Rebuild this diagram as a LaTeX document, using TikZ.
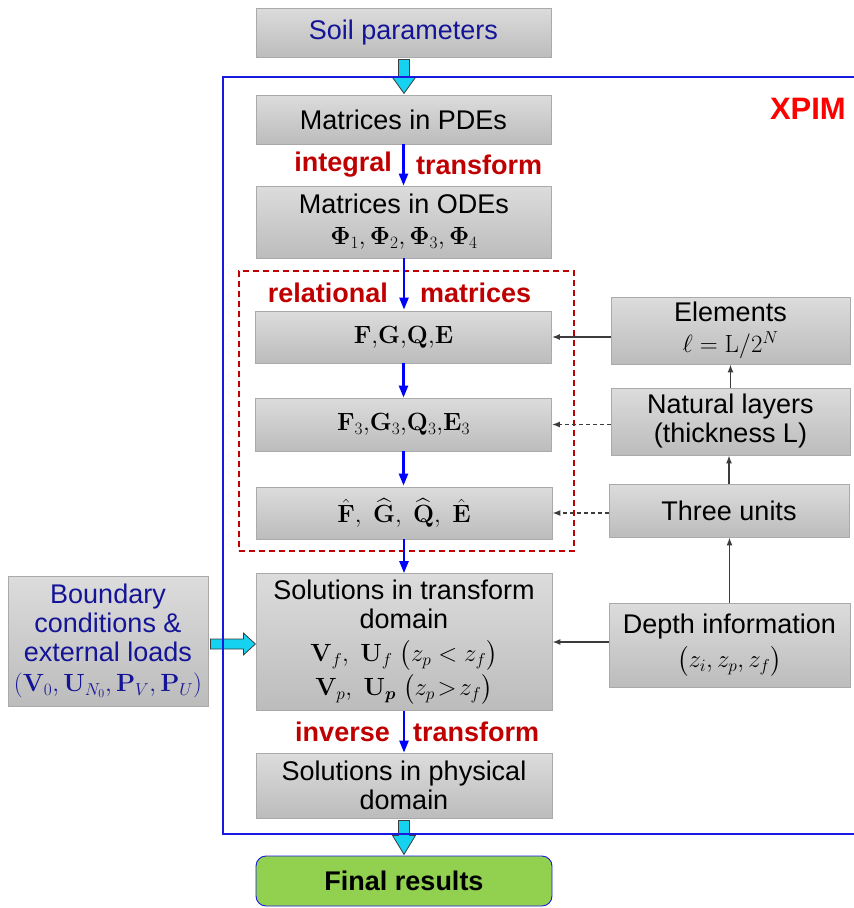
\documentclass[tikz,border=0pt]{standalone}
\usepackage{amsmath,bm}
\usepackage[no-math]{fontspec}
\setmainfont{Liberation Sans}
\usetikzlibrary{arrows.meta,calc}
\definecolor{navy}{RGB}{20,20,150}
\definecolor{darkred}{RGB}{192,0,0}
\definecolor{boxgray}{RGB}{170,170,170}
\definecolor{gtop}{RGB}{220,220,220}
\definecolor{gbot}{RGB}{188,188,188}
\definecolor{framecol}{RGB}{25,25,225}
\definecolor{cyanfill}{RGB}{20,210,240}
\definecolor{finalgreen}{RGB}{146,208,80}
\definecolor{arrgray}{RGB}{60,60,60}
\newcommand{\mfs}{\fontsize{26}{30}\selectfont}
\begin{document}
\begin{tikzpicture}[x=1pt,y=-1pt,
  gbox/.style={draw=boxgray, line width=0.8pt, top color=gtop, bottom color=gbot,
    align=center, inner sep=0pt, font=\fontsize{27}{29}\selectfont},
  lbl/.style={font=\fontsize{27}{30}\selectfont\bfseries, text=darkred, inner sep=0pt},
  bluearrow/.style={draw=blue, line width=2.4pt, -{Triangle[length=12pt,width=9pt]}},
  grayarrow/.style={draw=arrgray, line width=1.4pt, -{Latex[length=8pt,width=6pt]}},
  dasharrow/.style={grayarrow, dash pattern=on 4pt off 3pt},
  cyanarrow/.style={draw=arrgray, line width=0.8pt, fill=cyanfill, line join=miter}
]
\useasboundingbox (0,0) rectangle (854,908);

% red dashed group box
\node[draw=darkred, line width=1.4pt, dash pattern=on 6pt off 4pt, inner sep=0pt,
  minimum width=335pt, minimum height=280pt] (group) at (406.5,411) {};

% centre column
\node[gbox, minimum width=295pt, minimum height=49pt, text=navy] (soil) at (403.5,32.5) {Soil parameters};
\node[gbox, minimum width=295pt, minimum height=49pt] (pde) at (403.5,119.5) {Matrices in PDEs};
\node[gbox, minimum width=295pt, minimum height=72pt] (ode) at (404,222)
  {Matrices in ODEs\\[2pt] {\mfs $\bm{\Phi}_1, \bm{\Phi}_2, \bm{\Phi}_3, \bm{\Phi}_4$}};
\node[gbox, minimum width=296pt, minimum height=52pt] (fgqe) at (403.5,337)
  {\mfs $\mathbf{F}{,}\mathbf{G}{,}\mathbf{Q}{,}\mathbf{E}$};
\node[gbox, minimum width=296pt, minimum height=53pt] (f3) at (403.5,424.5)
  {\mfs $\mathbf{F}_3{,}\mathbf{G}_3{,}\mathbf{Q}_3{,}\mathbf{E}_3$};
\node[gbox, minimum width=296pt, minimum height=52pt] (fhat) at (404,513)
  {\mfs $\hat{\mathbf{F}},\ \widehat{\mathbf{G}},\ \widehat{\mathbf{Q}},\ \hat{\mathbf{E}}$};
\node[gbox, minimum width=296pt, minimum height=137pt] (soltr) at (404,642)
  {Solutions in transform\\ domain\\[4pt]
   {\mfs $\mathbf{V}_f,\ \mathbf{U}_f\ \bigl(z_p < z_f\bigr)$}\\[3pt]
   {\mfs $\mathbf{V}_p,\ \mathbf{U}_{\bm{p}}\ \bigl(z_p \!>\! z_f\bigr)$}};
\node[gbox, minimum width=296pt, minimum height=65pt] (solph) at (404,785.5)
  {Solutions in physical\\ domain};
\node[draw=framecol, line width=0.9pt, fill=finalgreen, rounded corners=10pt,
  minimum width=296pt, minimum height=50pt, inner sep=0pt,
  font=\fontsize{27}{30}\selectfont\bfseries] (final) at (404,881) {Final results};

% right column
\node[gbox, minimum width=239pt, minimum height=67pt] (elem) at (730.5,330.5)
  {Elements\\[2pt] {\mfs $\ell = \mathrm{L}/2^N$}};
\node[gbox, minimum width=239pt, minimum height=67pt] (nat) at (730.5,421.5)
  {Natural layers\\ (thickness L)};
\node[gbox, minimum width=240pt, minimum height=53pt] (three) at (729,510.5) {Three units};
\node[gbox, minimum width=241pt, minimum height=84pt] (depth) at (729.5,645)
  {Depth information\\[5pt] {\mfs $\bigl(z_i, z_p, z_f\bigr)$}};

% left box
\node[gbox, minimum width=200pt, minimum height=130pt, text=navy] (bound) at (108,641)
  {Boundary\\ conditions \&\\ external loads\\[1pt]
   {\mfs $\left(\mathbf{V}_0, \mathbf{U}_{N_0}, \mathbf{P}_V, \mathbf{P}_U\right)$}};

% labels
\node[lbl, anchor=east] (l1) at (392,165) {integral};
\node[lbl, anchor=west] (l2) at (416,165) {transform};
\node[lbl, anchor=east] (l3) at (388,293) {relational};
\node[lbl, anchor=west] (l4) at (420,293) {matrices};
\node[lbl, anchor=east] (l5) at (390,732) {inverse};
\node[lbl, anchor=west] (l6) at (413,732) {transform};
\node[font=\fontsize{31}{34}\selectfont\bfseries, text=red, inner sep=0pt, anchor=east] (xpim) at (846,109) {XPIM};

% blue arrows
\draw[bluearrow] (pde.south) -- (pde.south |- ode.north);
\draw[bluearrow] (ode.south) -- ([yshift=1pt]ode.south |- fgqe.north);
\draw[bluearrow] (fgqe.south) -- (fgqe.south |- f3.north);
\draw[bluearrow] (f3.south) -- ([yshift=1pt]f3.south |- fhat.north);
\draw[bluearrow] (fhat.south) -- (fhat.south |- soltr.north);
\draw[bluearrow] (soltr.south) -- (soltr.south |- solph.north);

% gray arrows
\draw[grayarrow] (nat.north) -- (nat.north |- elem.south);
\draw[grayarrow] (three.north) -- (three.north |- nat.south);
\draw[grayarrow] (depth.north) -- (depth.north |- three.south);
\draw[grayarrow] (fgqe.east -| elem.west) -- (fgqe.east);
\draw[dasharrow] (f3.east -| nat.west) -- (f3.east);
\draw[dasharrow] (fhat.east -| three.west) -- (fhat.east);
\draw[grayarrow] ([yshift=3pt]depth.west) -- ([yshift=3pt]depth.west -| soltr.east);

% cyan block arrows
\draw[cyanarrow] ($(soil.south)+(0.5,2)$) ++(-5.5,0) -- ++(0,18) -- ++(-6,0) -- ++(11.5,16)
  -- ++(11.5,-16) -- ++(-6,0) -- ++(0,-18) -- cycle;
\draw[cyanarrow] ($(solph.south)+(0,2)$) ++(-5.5,0) -- ++(0,15) -- ++(-6,0) -- ++(11.5,19)
  -- ++(11.5,-19) -- ++(-6,0) -- ++(0,-15) -- cycle;
\draw[cyanarrow] ($(bound.east)+(2,3)$) ++(0,-5) -- ++(33,0) -- ++(0,-6) -- ++(12,11)
  -- ++(-12,11) -- ++(0,-6) -- ++(-33,0) -- cycle;

% XPIM frame (open on the right, runs off the page)
\coordinate (ftr) at (860,77);
\coordinate (ftl) at (223,77);
\coordinate (fbl) at (223,834);
\coordinate (fbr) at (860,834);
\draw[framecol, line width=1.6pt] (ftr) -- (ftl) -- (fbl) -- (fbr);
\end{tikzpicture}
\end{document}
